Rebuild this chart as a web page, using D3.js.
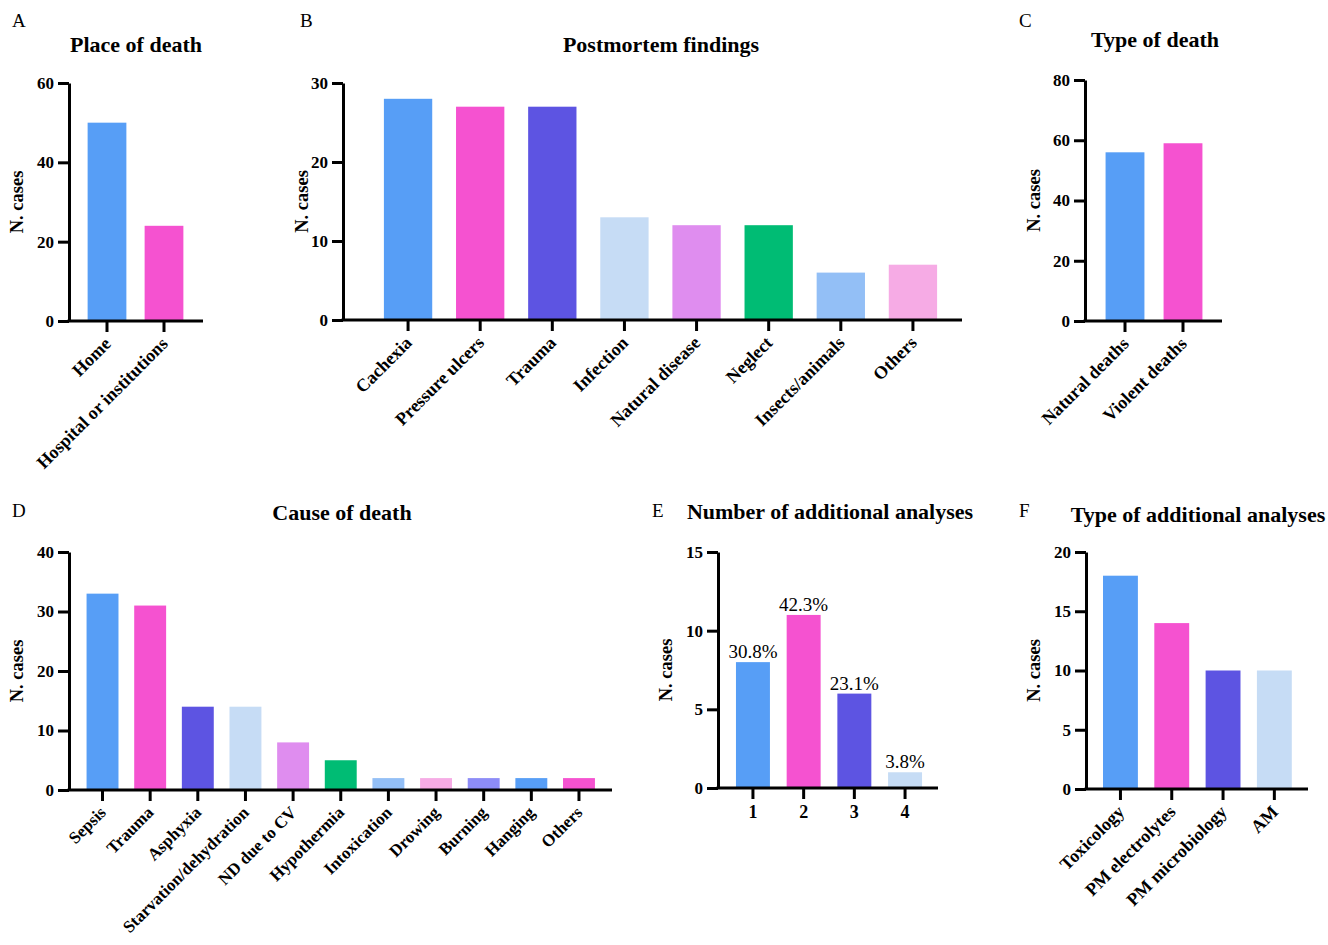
<!DOCTYPE html>
<html>
<head>
<meta charset="utf-8">
<script src="https://cdn.jsdelivr.net/npm/d3@7"></script>
<style>
  body { margin: 0; background: #fff; }
  svg text { font-family: "Liberation Serif", "Times New Roman", serif; fill: #000; }
</style>
</head>
<body>
<div id="wrapper"></div>
<script>
// ---- data ----
const placeLabels = ["Home", "Hospital or institutions"];
const placeValues = [50, 24];
const placeTicks = [0, 20, 40, 60];

const findingLabels = ["Cachexia", "Pressure ulcers", "Trauma", "Infection", "Natural disease", "Neglect", "Insects/animals", "Others"];
const findingValues = [28, 27, 27, 13, 12, 12, 6, 7];
const findingTicks = [0, 10, 20, 30];

const typeLabels = ["Natural deaths", "Violent deaths"];
const typeValues = [56, 59];
const typeTicks = [0, 20, 40, 60, 80];

const causeLabels = ["Sepsis", "Trauma", "Asphyxia", "Starvation/dehydration", "ND due to CV", "Hypothermia", "Intoxication", "Drowing", "Burning", "Hanging", "Others"];
const causeValues = [33, 31, 14, 14, 8, 5, 2, 2, 2, 2, 2];
const causeTicks = [0, 10, 20, 30, 40];

const countLabels = ["1", "2", "3", "4"];
const countValues = [8, 11, 6, 1];
const countPercents = ["30.8%", "42.3%", "23.1%", "3.8%"];
const countTicks = [0, 5, 10, 15];

const analysisLabels = ["Toxicology", "PM electrolytes", "PM microbiology", "AM"];
const analysisValues = [18, 14, 10, 10];
const analysisTicks = [0, 5, 10, 15, 20];

// colours
const blue = "#579ef6", pink = "#f552d0", indigo = "#5d54e2", pale = "#c6dcf5",
      lilac = "#df8def", green = "#00bc74", sky = "#93bff6", rose = "#f6abe5", peri = "#8d8cf7";

const serif = '"Liberation Serif", "Times New Roman", serif';

const svg = d3.select("#wrapper")
  .append("svg")
  .attr("width", 1328)
  .attr("height", 945);

function drawPanel(p) {
  const g = svg.append("g");

  const x = d3.scaleBand()
    .domain(p.labels)
    .range([p.bandX0, p.bandX1])
    .paddingInner(p.pad)
    .paddingOuter(p.pad / 2);

  const y = d3.scaleLinear()
    .domain([0, d3.max(p.ticks)])
    .range([p.y0, p.yTop]);

  // bars
  g.append("g")
    .selectAll("rect")
    .data(p.values)
    .join("rect")
    .attr("x", (d, i) => x(p.labels[i]))
    .attr("width", x.bandwidth())
    .attr("y", (d) => y(d))
    .attr("height", (d) => y(0) - y(d))
    .attr("fill", (d, i) => p.colors[i]);

  // y axis
  const yAxis = g.append("g")
    .attr("transform", `translate(${p.axisX0},0)`)
    .call(d3.axisLeft(y).tickValues(p.ticks).tickSize(11).tickSizeOuter(0).tickPadding(4));
  yAxis.selectAll("path, line").attr("stroke", "#000").attr("stroke-width", 3);
  yAxis.selectAll("text")
    .style("font-family", serif)
    .style("font-size", "17px")
    .style("font-weight", "700");

  // x axis
  const xAxis = g.append("g")
    .attr("transform", `translate(0,${p.y0})`)
    .call(d3.axisBottom(x).tickSize(11).tickSizeOuter(0).tickPadding(6));
  xAxis.select(".domain").remove();
  xAxis.selectAll("line").attr("stroke", "#000").attr("stroke-width", 3);
  xAxis.append("line")
    .attr("x1", p.axisX0 - 1.5)
    .attr("x2", p.axisX1)
    .attr("stroke", "#000")
    .attr("stroke-width", 3);

  const xt = xAxis.selectAll("text")
    .style("font-family", serif)
    .style("font-size", (p.labelSize || 18) + "px")
    .style("font-weight", "700");
  if (p.rotate) {
    xt.attr("text-anchor", "end")
      .attr("transform", "translate(-3,16) rotate(-45)")
      .attr("y", 0)
      .attr("dy", "0.62em");
  }

  // value labels
  if (p.notes) {
    g.append("g")
      .selectAll("text")
      .data(p.notes)
      .join("text")
      .attr("x", (d, i) => x(p.labels[i]) + x.bandwidth() / 2)
      .attr("y", (d, i) => y(p.values[i]) - 4)
      .attr("text-anchor", "middle")
      .style("font-size", "19px")
      .text((d) => d);
  }

  // y label
  g.append("text")
    .attr("transform", `translate(${p.yLabelX},${(p.y0 + p.yTop) / 2}) rotate(-90)`)
    .attr("text-anchor", "middle")
    .attr("dy", "0.35em")
    .style("font-size", "18.5px")
    .style("font-weight", "700")
    .text("N. cases");

  // title
  g.append("text")
    .attr("x", p.titleX)
    .attr("y", p.titleY)
    .attr("text-anchor", "middle")
    .style("font-size", "22px")
    .style("font-weight", "700")
    .text(p.title);

  // panel letter
  g.append("text")
    .attr("x", p.letterX)
    .attr("y", p.letterY)
    .style("font-size", "19px")
    .text(p.letter);
}

drawPanel({
  letter: "A", letterX: 12, letterY: 27, title: "Place of death", titleX: 136, titleY: 52,
  labels: placeLabels, values: placeValues, ticks: placeTicks, colors: [blue, pink],
  axisX0: 69, axisX1: 203, bandX0: 78.5, bandX1: 192.5, pad: 0.32, y0: 321, yTop: 83,
  yLabelX: 17, rotate: true
});

drawPanel({
  letter: "B", letterX: 300, letterY: 27, title: "Postmortem findings", titleX: 661, titleY: 52,
  labels: findingLabels, values: findingValues, ticks: findingTicks,
  colors: [blue, pink, indigo, pale, lilac, green, sky, rose],
  axisX0: 343, axisX1: 962, bandX0: 372, bandX1: 949, pad: 0.33, y0: 320, yTop: 83,
  yLabelX: 302, rotate: true
});

drawPanel({
  letter: "C", letterX: 1019, letterY: 27, title: "Type of death", titleX: 1155, titleY: 47,
  labels: typeLabels, values: typeValues, ticks: typeTicks, colors: [blue, pink],
  axisX0: 1085, axisX1: 1222, bandX0: 1096, bandX1: 1212, pad: 0.33, y0: 321, yTop: 80,
  yLabelX: 1034, rotate: true
});

drawPanel({
  letter: "D", letterX: 12, letterY: 517, title: "Cause of death", titleX: 342, titleY: 520,
  labels: causeLabels, values: causeValues, ticks: causeTicks,
  colors: [blue, pink, indigo, pale, lilac, green, sky, rose, peri, blue, pink],
  axisX0: 69, axisX1: 612, bandX0: 78.7, bandX1: 602.8, pad: 0.33, y0: 790, yTop: 552,
  yLabelX: 17, rotate: true, labelSize: 17
});

drawPanel({
  letter: "E", letterX: 652, letterY: 517, title: "Number of additional analyses", titleX: 830, titleY: 519,
  labels: countLabels, values: countValues, ticks: countTicks, colors: [blue, pink, indigo, pale],
  notes: countPercents,
  axisX0: 718, axisX1: 938, bandX0: 727.6, bandX1: 930.4, pad: 0.33, y0: 788, yTop: 552,
  yLabelX: 666, rotate: false
});

drawPanel({
  letter: "F", letterX: 1019, letterY: 517, title: "Type of additional analyses", titleX: 1198, titleY: 522,
  labels: analysisLabels, values: analysisValues, ticks: analysisTicks, colors: [blue, pink, indigo, pale],
  axisX0: 1086, axisX1: 1308, bandX0: 1094.8, bandX1: 1300, pad: 0.32, y0: 789, yTop: 552,
  yLabelX: 1034, rotate: true
});
</script>
</body>
</html>
